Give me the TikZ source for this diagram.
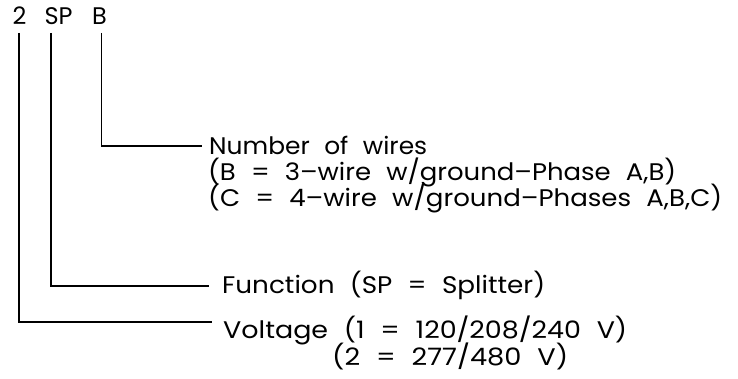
\documentclass[tikz,border=0pt]{standalone}
\usepackage{graphicx}
\usepackage{fontspec}
\setmainfont{Poppins}
\newcommand{\labfont}{\fontsize{24}{28}\selectfont\spaceskip=14pt\relax}
\newsavebox\fitbox
\newcommand{\fitw}[2]{\sbox\fitbox{#2}\scalebox{\fpeval{(#1)/(\the\wd\fitbox)}}[1]{\usebox\fitbox}}
\begin{document}
\begin{tikzpicture}[x=1pt,y=-1pt,
  lbl/.style={anchor=base west,inner sep=0pt,font=\labfont},
  code/.style={anchor=base,inner sep=0pt,font=\labfont},
  lead/.style={line width=1.6pt,line join=miter}]
\useasboundingbox (0,0) rectangle (738,379);
% code letters
\node[code] (c2) at (19.5,25) {2};
\node[code] (csp) at (58.5,25) {SP};
\node[code] (cb) at (99.5,25) {B};
% top ends of leaders
\coordinate (t2) at (19,33);
\coordinate (tsp) at (51,33);
\coordinate (tb) at (101.5,33);
% right ends of leaders
\coordinate (eb) at (202,146);
\coordinate (esp) at (209,286);
\coordinate (e2) at (212,322);
% labels
\node[lbl] (nw) at (209,155) {\fitw{218}{Number of wires}};
\node[lbl] (nb) at (208,181) {\fitw{468}{(B = 3--wire w/ground--Phase A,B)}};
\node[lbl] (nc) at (208,207) {\fitw{514}{(C = 4--wire w/ground--Phases A,B,C)}};
\node[lbl] (fn) at (222,293) {\fitw{323}{Function (SP = Splitter)}};
\node[lbl] (vt) at (223,338) {\fitw{404}{Voltage (1 = 120/208/240 V)}};
\node[lbl] (v2) at (332,365) {\fitw{236}{(2 = 277/480 V)}};
% leaders
\draw[lead] (tb) |- (eb);
\draw[lead] (tsp) |- (esp);
\draw[lead] (t2) |- (e2);
\end{tikzpicture}
\end{document}
